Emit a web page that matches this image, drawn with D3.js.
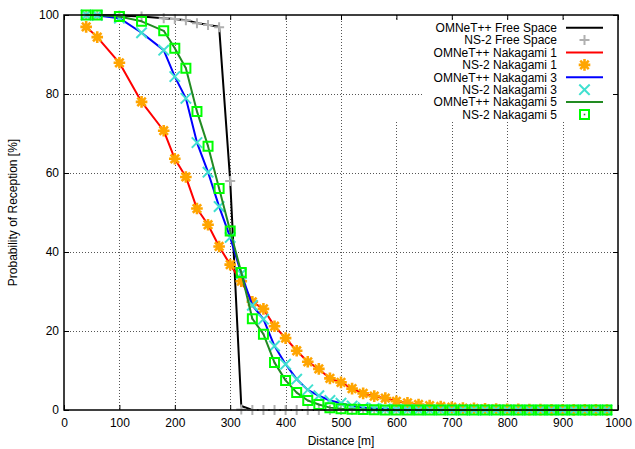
<!DOCTYPE html>
<html>
<head>
<meta charset="utf-8">
<script src="https://cdn.jsdelivr.net/npm/d3@7/dist/d3.min.js"></script>
<style>
  html, body { margin: 0; padding: 0; background: #fff; }
  svg { display: block; }
  text { font-family: "Liberation Sans", Arial, Helvetica, sans-serif; }
</style>
</head>
<body>
<svg id="chart" width="635" height="449"></svg>
<script>
// ---------------- data ----------------
const distances = [40, 60, 100, 140, 180, 200, 220, 240, 260, 280, 300, 320, 340, 360, 380, 400,
  420, 440, 460, 480, 500, 520, 540, 560, 580, 600, 620, 640, 660, 680, 700, 720, 740, 760, 780,
  800, 820, 840, 860, 880, 900, 920, 940, 960, 980];

const omnetFreeSpace = [100, 100, 99.9, 99.6, 99.2, 99.0, 98.7, 98.0, 97.5, 97.0, 58.0, 1.0,
  0, 0, 0, 0, 0, 0, 0, 0, 0, 0, 0, 0, 0, 0, 0, 0, 0, 0, 0, 0, 0, 0, 0, 0, 0, 0, 0, 0, 0, 0, 0, 0, 0];
const ns2FreeSpace = [100, 100, 99.9, 99.6, 99.2, 99.0, 98.7, 97.9, 97.5, 96.9, 58.0, 0.1,
  0, 0, 0, 0, 0, 0, 0, 0, 0, 0, 0, 0, 0, 0, 0, 0, 0, 0, 0, 0, 0, 0, 0, 0, 0, 0, 0, 0, 0, 0, 0, 0, 0];

const omnetNakagami1 = [97.0, 94.4, 87.9, 78.0, 70.7, 63.6, 59.0, 51.0, 46.9, 41.4, 36.8, 32.6,
  27.4, 25.6, 21.2, 18.2, 15.0, 12.2, 10.4, 8.0, 7.0, 5.4, 4.2, 3.5, 3.0, 2.2, 1.8, 1.4, 1.1, 0.9,
  0.7, 0.5, 0.4, 0.3, 0.25, 0.2, 0.15, 0.1, 0.1, 0.05, 0.05, 0.03, 0.02, 0.02, 0.01];
const ns2Nakagami1 = [97.0, 94.4, 87.9, 78.0, 70.7, 63.6, 59.0, 51.0, 46.9, 41.4, 36.8, 32.6,
  27.4, 25.6, 21.2, 18.2, 15.0, 12.2, 10.4, 8.0, 7.0, 5.4, 4.2, 3.5, 3.0, 2.2, 1.8, 1.4, 1.1, 0.9,
  0.7, 0.5, 0.4, 0.3, 0.25, 0.2, 0.15, 0.1, 0.1, 0.05, 0.05, 0.03, 0.02, 0.02, 0.01];

const omnetNakagami3 = [100, 99.9, 99.2, 95.5, 91.1, 84.4, 78.9, 67.7, 60.2, 51.5, 43.7, 34.5,
  26.5, 23.0, 16.2, 11.6, 7.8, 5.1, 3.6, 2.4, 1.7, 1.0, 0.6, 0.4, 0.25, 0.15, 0.1, 0.05, 0.03, 0.02,
  0.01, 0, 0, 0, 0, 0, 0, 0, 0, 0, 0, 0, 0, 0, 0];
const ns2Nakagami3 = [100, 99.9, 99.2, 95.5, 91.1, 84.4, 78.9, 67.7, 60.2, 51.5, 43.7, 34.5,
  26.5, 23.0, 16.2, 11.6, 7.8, 5.1, 3.6, 2.4, 1.7, 1.0, 0.6, 0.4, 0.25, 0.15, 0.1, 0.05, 0.03, 0.02,
  0.01, 0, 0, 0, 0, 0, 0, 0, 0, 0, 0, 0, 0, 0, 0];

const omnetNakagami5 = [100, 100, 99.6, 98.4, 96.0, 91.6, 86.5, 75.6, 66.8, 56.1, 45.3, 34.8,
  23.1, 19.2, 12.0, 7.5, 4.4, 2.4, 1.4, 0.6, 0.3, 0.2, 0.1, 0.05, 0, 0, 0, 0, 0, 0,
  0, 0, 0, 0, 0, 0, 0, 0, 0, 0, 0, 0, 0, 0, 0];
const ns2Nakagami5 = [100, 100, 99.6, 98.4, 96.0, 91.6, 86.5, 75.6, 66.8, 56.1, 45.3, 34.8,
  23.1, 19.2, 12.0, 7.5, 4.4, 2.4, 1.4, 0.6, 0.3, 0.2, 0.1, 0.05, 0, 0, 0, 0, 0, 0,
  0, 0, 0, 0, 0, 0, 0, 0, 0, 0, 0, 0, 0, 0, 0];

const xTicks = [0, 100, 200, 300, 400, 500, 600, 700, 800, 900, 1000];
const yTicks = [0, 20, 40, 60, 80, 100];

const seriesLabels = ["OMNeT++ Free Space", "NS-2 Free Space", "OMNeT++ Nakagami 1", "NS-2 Nakagami 1",
  "OMNeT++ Nakagami 3", "NS-2 Nakagami 3", "OMNeT++ Nakagami 5", "NS-2 Nakagami 5"];
const xTitle = "Distance [m]";
const yTitle = "Probability of Reception [%]";

// ---------------- layout ----------------
const svg = d3.select("#chart");
const L = 64, R = 618, T = 15, B = 410;
const x = d3.scaleLinear().domain([0, 1000]).range([L, R]);
const y = d3.scaleLinear().domain([0, 100]).range([B, T]);
const FS = 12;

// key region (gnuplot leaves grid out of it)
const keyTop = 20, keyBottom = 122, keyLeft = 423, keyVLeft = 390;

// grid
const grid = svg.append("g").attr("stroke", "#555").attr("stroke-width", 1)
  .attr("stroke-dasharray", "1,2").attr("fill", "none");
xTicks.filter(t => t > 0 && t < 1000).forEach(t => {
  const px = Math.round(x(t)) + 0.5;
  if (px > keyVLeft) {
    grid.append("line").attr("x1", px).attr("x2", px).attr("y1", T).attr("y2", keyTop);
    grid.append("line").attr("x1", px).attr("x2", px).attr("y1", keyBottom).attr("y2", B);
  } else {
    grid.append("line").attr("x1", px).attr("x2", px).attr("y1", T).attr("y2", B);
  }
});
yTicks.filter(t => t > 0 && t < 100).forEach(t => {
  const py = Math.round(y(t)) + 0.5;
  const inKey = py > keyTop && py < keyBottom;
  grid.append("line").attr("x1", L).attr("x2", inKey ? keyLeft : R).attr("y1", py).attr("y2", py);
});

// axes (inward ticks, mirrored)
function styleAxis(g) {
  g.select(".domain").remove();
  g.selectAll(".tick line").attr("stroke", "#000").attr("stroke-width", 1);
  g.selectAll(".tick text").attr("fill", "#000").style("font-size", FS + "px")
    .style("font-family", "'Liberation Sans', Arial, sans-serif");
}
svg.append("g").attr("transform", `translate(0,${B})`)
  .call(d3.axisBottom(x).tickValues(xTicks).tickSize(-5).tickPadding(8.5).tickFormat(d3.format("d")))
  .call(styleAxis);
svg.append("g").attr("transform", `translate(0,${T})`)
  .call(d3.axisTop(x).tickValues(xTicks).tickSize(-5).tickFormat(""))
  .call(styleAxis);
svg.append("g").attr("transform", `translate(${L},0)`)
  .call(d3.axisLeft(y).tickValues(yTicks).tickSize(-5).tickPadding(5).tickFormat(d3.format("d")))
  .call(styleAxis);
svg.append("g").attr("transform", `translate(${R},0)`)
  .call(d3.axisRight(y).tickValues(yTicks).tickSize(-5).tickFormat(""))
  .call(styleAxis);

// markers
const markers = {
  plus: { path: "M-4,0L4,0M0,-4L0,4", stroke: "#b0b0b0", sw: 2 },
  star: { path: "M-4.5,0L4.5,0M0,-4.5L0,4.5M-3.3,-3.3L3.3,3.3M-3.3,3.3L3.3,-3.3", stroke: "#ffa500", sw: 2.6 },
  cross: { path: "M-4.5,-4.5L4.5,4.5M-4.5,4.5L4.5,-4.5", stroke: "#40e0d0", sw: 2 },
  square: { path: "M-4.5,-4.5H4.5V4.5H-4.5Z", stroke: "#00ff00", sw: 2 }
};

const series = [
  { label: seriesLabels[0], values: omnetFreeSpace, type: "line", color: "#000000" },
  { label: seriesLabels[1], values: ns2FreeSpace, type: "points", marker: "plus" },
  { label: seriesLabels[2], values: omnetNakagami1, type: "line", color: "#ff0000" },
  { label: seriesLabels[3], values: ns2Nakagami1, type: "points", marker: "star" },
  { label: seriesLabels[4], values: omnetNakagami3, type: "line", color: "#0000ff" },
  { label: seriesLabels[5], values: ns2Nakagami3, type: "points", marker: "cross" },
  { label: seriesLabels[6], values: omnetNakagami5, type: "line", color: "#228b22" },
  { label: seriesLabels[7], values: ns2Nakagami5, type: "points", marker: "square" }
];

const lineGen = d3.line().x(d => x(d[0])).y(d => y(d[1]));

function drawMarker(g, m, cx, cy) {
  const mk = markers[m];
  g.append("path").attr("d", mk.path).attr("transform", `translate(${cx},${cy})`)
    .attr("fill", "none").attr("stroke", mk.stroke).attr("stroke-width", mk.sw)
    .attr("stroke-linecap", "square");
  if (m === "square") {
    g.append("rect").attr("x", cx - 0.8).attr("y", cy - 0.8).attr("width", 1.6).attr("height", 1.6)
      .attr("fill", "#3a7a3a");
  }
}

const plot = svg.append("g");
series.forEach(s => {
  const pts = distances.map((d, i) => [d, s.values[i]]);
  if (s.type === "line") {
    plot.append("path").datum(pts).attr("d", lineGen).attr("fill", "none")
      .attr("stroke", s.color).attr("stroke-width", 2).attr("stroke-linejoin", "round");
  } else {
    const g = plot.append("g");
    pts.forEach(p => drawMarker(g, s.marker, x(p[0]), y(p[1])));
  }
});

// border
svg.append("rect").attr("x", L).attr("y", T).attr("width", R - L).attr("height", B - T)
  .attr("fill", "none").attr("stroke", "#000").attr("stroke-width", 1.5);

// legend
const legend = svg.append("g");
const rowY0 = 27.7, rowH = 12.4;
series.forEach((s, i) => {
  const ry = rowY0 + i * rowH;
  legend.append("text").attr("x", 557).attr("y", ry).attr("dy", "0.35em")
    .attr("text-anchor", "end").style("font-size", FS + "px").attr("fill", "#000").text(s.label);
  if (s.type === "line") {
    legend.append("line").attr("x1", 566).attr("x2", 603).attr("y1", ry).attr("y2", ry)
      .attr("stroke", s.color).attr("stroke-width", 2);
  } else {
    drawMarker(legend, s.marker, 584.5, ry);
  }
});

// titles
svg.append("text").attr("x", (L + R) / 2).attr("y", 445).attr("text-anchor", "middle")
  .style("font-size", FS + "px").attr("fill", "#000").text(xTitle);
svg.append("text").attr("transform", `translate(17,${(T + B) / 2}) rotate(-90)`)
  .attr("text-anchor", "middle").style("font-size", FS + "px").attr("fill", "#000").text(yTitle);
</script>
</body>
</html>
